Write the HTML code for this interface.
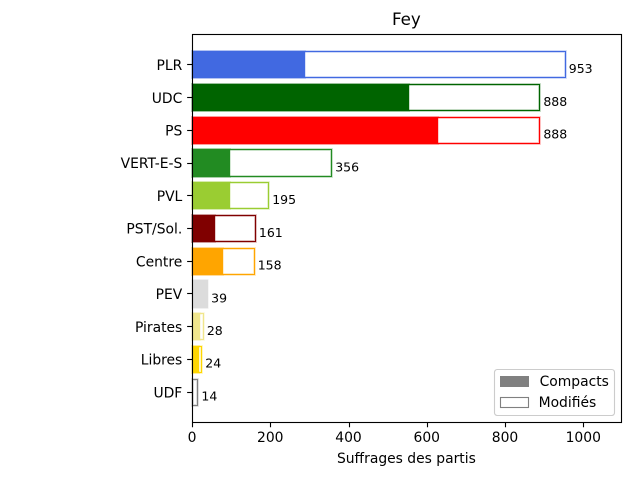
<!DOCTYPE html>
<html>
<head>
<meta charset="utf-8">
<title>Fey</title>
<style>
html,body{margin:0;padding:0;background:#fff;width:640px;height:480px;overflow:hidden}
svg{display:block}
text{font-family:"DejaVu Sans",sans-serif;fill:#000}
</style>
</head>
<body>
<svg id="chart" width="640" height="480" viewBox="0 0 640 480" xmlns="http://www.w3.org/2000/svg"></svg>
<script>
const parties = ["PLR","UDC","PS","VERT-E-S","PVL","PST/Sol.","Centre","PEV","Pirates","Libres","UDF"];
const compactVotes = [288,555,628,97,97,59,79,39,20,18,1];
const totalVotes = [953,888,888,356,195,161,158,39,28,24,14];
const partyColors = ["royalblue","darkgreen","red","forestgreen","yellowgreen","maroon","orange","gainsboro","khaki","gold","grey"];
const xTickValues = [0,200,400,600,800,1000];

const svg = document.getElementById('chart');
const NS = 'http://www.w3.org/2000/svg';
const plot = {left:192, right:620.8, top:33.6, bottom:422.4};
const xMax = Math.max.apply(null, totalVotes) * 1.15;
const yMin = -0.94, yMax = parties.length - 1 + 0.94;

function xScale(v){ return plot.left + (v / xMax) * (plot.right - plot.left); }
function yScale(i){ return plot.top + ((i - yMin) / (yMax - yMin)) * (plot.bottom - plot.top); }
function snap(v){ return Math.round(v); }
function crisp(v){ return Math.round(v) + 0.5; }

function make(tag, attrs, text){
  const el = document.createElementNS(NS, tag);
  for (const k in attrs) el.setAttribute(k, attrs[k]);
  if (text !== undefined) el.textContent = text;
  svg.appendChild(el);
  return el;
}

parties.forEach(function(party, i){
  const yTop = crisp(yScale(i - 0.4));
  const yBot = crisp(yScale(i + 0.4));
  const x0 = crisp(xScale(0));
  const x1 = crisp(xScale(totalVotes[i]));
  const xc = snap(xScale(compactVotes[i]));
  const key = party.toLowerCase().replace(/[^a-z]+/g,'-');

  const halo = make('rect', {x:x0, y:yTop, width:Math.max(0,x1-x0), height:yBot-yTop, fill:'#fff', stroke:partyColors[i], 'stroke-width':3, 'stroke-opacity':0.2});
  
  

  const outline = make('rect', {x:x0, y:yTop, width:Math.max(0,x1-x0), height:yBot-yTop, fill:'none', stroke:partyColors[i], 'stroke-width':1.11});
  
  

  const fillTop = yTop - 0.5;
  const fillHeight = yBot - yTop + 1;
  const fillHalo = make('rect', {x:x0, y:fillTop, width:Math.max(0,xc-x0), height:fillHeight, fill:'none', stroke:partyColors[i], 'stroke-width':2, 'stroke-opacity':0.2});
  
  

  const fill = make('rect', {x:x0, y:fillTop, width:Math.max(0,xc-x0), height:fillHeight, fill:partyColors[i]});
  
  

  const val = make('text', {x:xScale(totalVotes[i] + 10), y:yScale(i) + 8.8, 'font-size':'12.5px'}, String(totalVotes[i]));
  
  

  const tickY = crisp(yScale(i));
  const tick = make('line', {x1:plot.left - 4.86, x2:plot.left, y1:tickY, y2:tickY, stroke:'#000', 'stroke-width':1.11});
  
  

  const lab = make('text', {x:plot.left - 9.7, y:yScale(i) + 5.7, 'font-size':'13.89px', 'text-anchor':'end'}, party);
  
  
});

xTickValues.forEach(function(v){
  const tx = crisp(xScale(v));
  const tick = make('line', {x1:tx, x2:tx, y1:plot.bottom, y2:plot.bottom + 4.86, stroke:'#000', 'stroke-width':1.11});
  
  

  const lab = make('text', {x:xScale(v), y:442.2, 'font-size':'13.89px', 'text-anchor':'middle'}, String(v));
  
  
});

const frame = make('rect', {x:192.5, y:34.5, width:429, height:388, fill:'none', stroke:'#000', 'stroke-width':1.11});



const title = make('text', {x:406.4, y:25, 'font-size':'16.67px', 'text-anchor':'middle'}, 'Fey');



const xTitle = make('text', {x:406.4, y:463, 'font-size':'13.89px', 'text-anchor':'middle'}, 'Suffrages des partis');



const legendBox = make('rect', {x:494.5, y:369.5, width:120, height:46, rx:2.8, fill:'#fff', 'fill-opacity':0.8, stroke:'#ccc', 'stroke-width':1.11});



const swatchCompact = make('rect', {x:500, y:376, width:29, height:11, fill:'grey'});



const labelCompact = make('text', {x:539.6, y:386, 'font-size':'13.89px'}, 'Compacts');



const swatchModified = make('rect', {x:500.5, y:397.5, width:28, height:10, fill:'#fff', stroke:'grey', 'stroke-width':1.11});



const labelModified = make('text', {x:538.6, y:407, 'font-size':'13.89px'}, 'Modifiés');


</script>
</body>
</html>
